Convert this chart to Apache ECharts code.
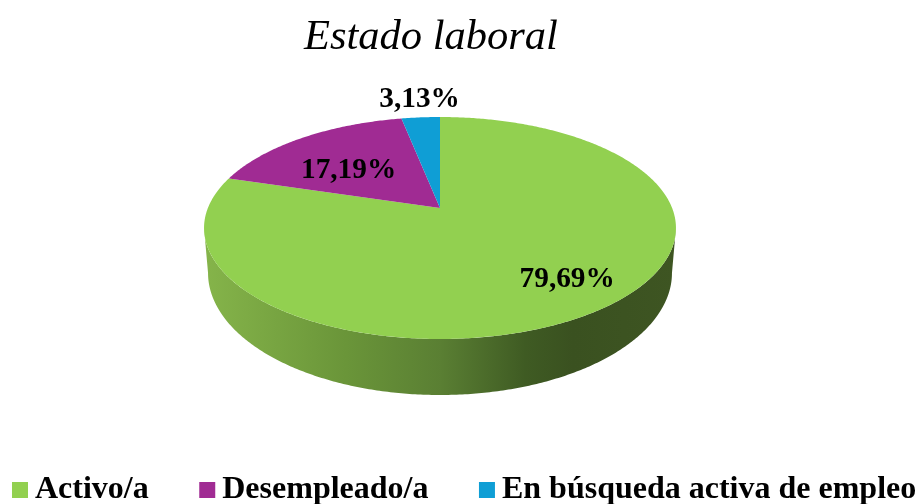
<!DOCTYPE html>
<html>
<head>
<meta charset="utf-8">
<style>html,body{margin:0;padding:0;background:#fff}#c{width:920px;height:504px}</style>
<script src="https://cdn.jsdelivr.net/npm/echarts@6/dist/echarts.min.js"></script>
</head>
<body>
<div id="c"></div>
<script>
const titleText = 'Estado laboral';
const categories = ['Activo/a', 'Desempleado/a', 'En búsqueda activa de empleo'];
const values = [79.69, 17.19, 3.13];
const colors = ['#92D050', '#A02B93', '#0F9ED5'];

// Perspective disc layout (pixels)
const CX = 440, APEX_Y = 208, K = 232.1, PERSP = 0.18018, TILT = -69.92;
const WALL = {cy: 273, ry: 122, rx: 232, topCy: 228, topRy: 111, topRx: 236};
const LABEL_R = [0.726, 0.539, 1.26];
const LABEL_DX = [15, -13, 3];
const LABEL_DY = [1.5, 2, 1];
const FONT = '"Liberation Serif","Times New Roman",serif';

const total = values.reduce((a, b) => a + b, 0);
const project = (s, t) => {
  const d = PERSP * t + 1;
  return [CX + K * s / d, (TILT * t + APEX_Y) / d];
};
const rim = th => project(Math.sin(th), Math.cos(th));
const wallBottom = p => [
  CX + (p[0] - CX) * WALL.rx / WALL.topRx,
  WALL.cy + (p[1] - WALL.topCy) * WALL.ry / WALL.topRy
];
const arcPoints = (a, b, f) => {
  const n = Math.max(2, Math.ceil((b - a) / 0.01));
  const out = [];
  for (let i = 0; i <= n; i++) out.push(f(a + (b - a) * i / n));
  return out;
};
const TANGENT = Math.acos(-PERSP);
const wallGradient = {
  type: 'linear', x: 205, y: 0, x2: 676, y2: 0, global: true,
  colorStops: [
    {offset: 0, color: '#85B44A'},
    {offset: 0.3, color: '#6A9539'},
    {offset: 0.5, color: '#5A7F33'},
    {offset: 0.68, color: '#3F5B23'},
    {offset: 0.78, color: '#3A5120'},
    {offset: 1, color: '#3E5522'}
  ]
};

const makeRender = idx => (params, api) => {
  const v = api.value(0);
  const before = values.slice(0, idx).reduce((a, b) => a + b, 0);
  const a0 = before / total * 2 * Math.PI;
  const a1 = a0 + v / total * 2 * Math.PI;
  const children = [];
  const w0 = Math.max(a0, TANGENT), w1 = Math.min(a1, 2 * Math.PI - TANGENT);
  if (w1 > w0) {
    const top = arcPoints(w0, w1, rim);
    const bottom = top.map(wallBottom).reverse();
    children.push({type: 'polygon', shape: {points: top.concat(bottom)}, style: {fill: wallGradient}});
  }
  const face = [[CX, APEX_Y]].concat(arcPoints(a0, a1, rim));
  children.push({type: 'polygon', shape: {points: face}, style: {fill: colors[idx]}});
  const mid = (a0 + a1) / 2;
  const lp = project(Math.sin(mid) * LABEL_R[idx], Math.cos(mid) * LABEL_R[idx]);
  children.push({
    type: 'text', z2: 10,
    style: {
      x: lp[0] + LABEL_DX[idx], y: lp[1] + LABEL_DY[idx],
      text: v.toFixed(2).replace('.', ',') + '%',
      align: 'center', verticalAlign: 'middle',
      font: 'bold 29.3px ' + FONT, fill: '#000'
    }
  });
  return {type: 'group', children};
};

const chart = echarts.init(document.getElementById('c'), null, {renderer: 'canvas'});
chart.setOption({
  backgroundColor: '#fff',
  animation: false,
  title: {
    text: titleText, left: 304, top: 16, padding: 0,
    textStyle: {fontFamily: FONT, fontStyle: 'italic', fontWeight: 'normal', fontSize: 42.5, color: '#000'}
  },
  legend: {
    data: categories, left: 12, top: 474, padding: 0, selectedMode: false,
    icon: 'rect', itemWidth: 16, itemHeight: 16, itemGap: 50.5,
    textStyle: {fontFamily: FONT, fontWeight: 'bold', fontSize: 32, color: '#000', padding: [5, 0, 0, 2]}
  },
  series: categories.map((name, i) => ({
    type: 'custom', name, coordinateSystem: 'none',
    itemStyle: {color: colors[i]},
    renderItem: makeRender(i),
    data: [[values[i]]]
  }))
});
</script>
</body>
</html>
